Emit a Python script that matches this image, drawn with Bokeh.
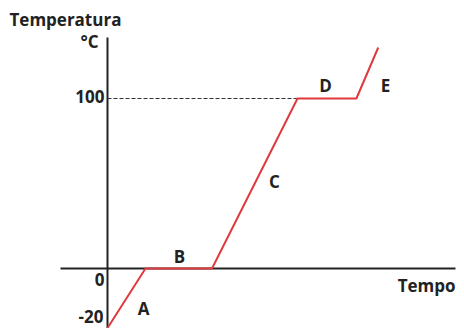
from bokeh.plotting import figure
from bokeh.models import Range1d
from bokeh.core.properties import value
from bokeh.embed import file_html
from bokeh.resources import INLINE

# Heating curve (schematic): time in arbitrary units, temperature position on the schematic axis
time = [0, 4, 11, 20, 26.2, 28.5]
temperature = [-35, 0, 0, 100, 100, 130]
phase_labels = ["A", "B", "C", "D", "E"]
tick_values = [100, 0, -35]
tick_labels = ["100", "0", "-20"]
y_title = "Temperatura"
y_unit = "°C"
x_title = "Tempo"

# picture-pixel -> data helpers (origin at picture px 107,268)
def dx(px):
    return (px - 107) / 9.5

def dy(py):
    return (268 - py) / 1.7

p = figure(width=456, height=328,
           x_range=Range1d(dx(0), dx(456)), y_range=Range1d(dy(328), dy(0)),
           output_backend="svg", toolbar_location=None, min_border=0)
p.axis.visible = False
p.grid.visible = False
p.outline_line_color = None
p.background_fill_color = "white"
p.border_fill_color = "white"

ink = "#222222"
font = value("Open Sans")

# axes
p.segment(x0=[dx(60), 0], y0=[0, dy(37)], x1=[dx(455), 0], y1=[0, dy(330)],
          line_color=ink, line_width=2)

# dashed guide at 100
p.line([0, time[3]], [temperature[3], temperature[4]], line_color="#333333",
       line_width=1, line_dash="4 2")

# curve
p.line(time, temperature, line_color="#e0393e", line_width=2)

# phase labels
lab_px = [(143, 308), (179, 256), (274, 181), (325, 85), (385, 85)]
p.text(x=[dx(a) for a, b in lab_px], y=[dy(b) for a, b in lab_px], text=phase_labels,
       text_font=font, text_font_style="bold", text_font_size="17px",
       text_color=ink, text_align="center", text_baseline="middle")

# tick labels
tick_px = [(104, 96), (104, 279), (103, 316)]
p.text(x=[dx(a) for a, b in tick_px], y=[dy(b) for a, b in tick_px], text=tick_labels,
       text_font=font, text_font_style="bold", text_font_size="17px",
       text_color=ink, text_align="right", text_baseline="middle")

# titles
p.text(x=[dx(9)], y=[dy(19)], text=[y_title], text_font=font, text_font_style="bold",
       text_font_size="17px", text_color=ink, text_align="left", text_baseline="middle")
p.text(x=[dx(98)], y=[dy(41)], text=[y_unit], text_font=font, text_font_style="bold",
       text_font_size="17px", text_color=ink, text_align="right", text_baseline="middle")
p.text(x=[dx(455)], y=[dy(285)], text=[x_title], text_font=font, text_font_style="bold",
       text_font_size="17px", text_color=ink, text_align="right", text_baseline="middle")

open("out.html", "w").write(file_html(p, INLINE))
